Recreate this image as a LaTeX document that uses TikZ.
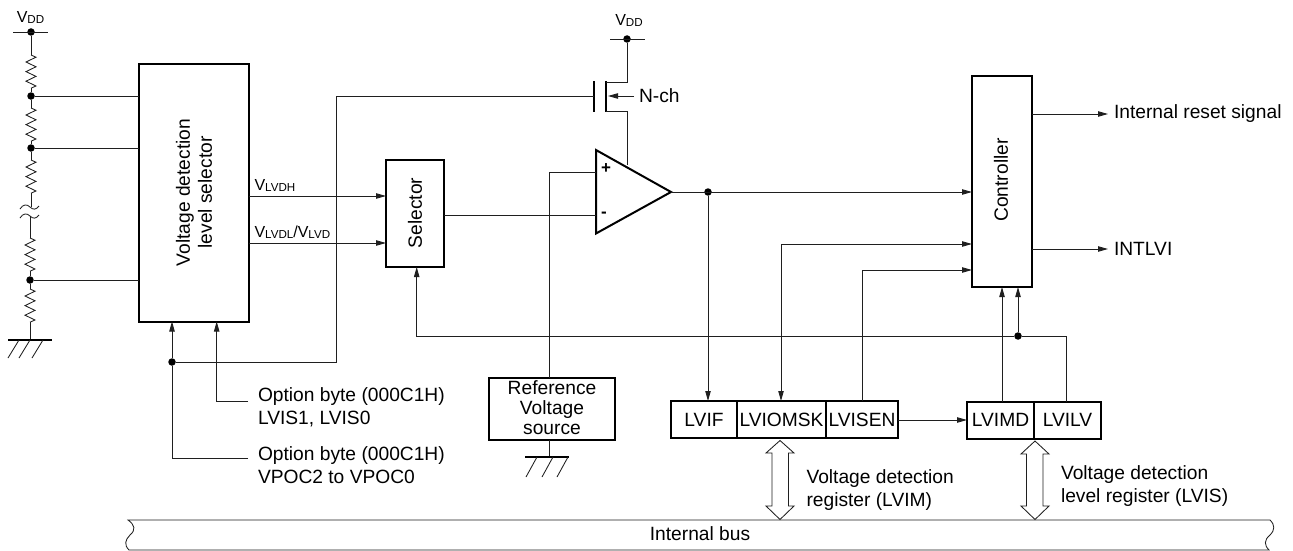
\documentclass[tikz,border=0pt]{standalone}
\usepackage{fontspec}
\setmainfont{Liberation Sans}
\usetikzlibrary{arrows.meta,calc}
\newcommand\vsub[1]{{\fontsize{16}{16}\selectfont V\raisebox{-1pt}{\fontsize{11.6}{11.6}\selectfont #1}}}
\newcommand\resz[2]{\draw[wire] (#1,#2) -- ++(5,2.2) -- ++(-10,4.8) -- ++(10,4.8) -- ++(-10,4.8) -- ++(10,4.8) -- ++(-10,4.8) -- ++(10,4.8) -- ++(-5,2.2);}
\tikzset{
  wire/.style={line width=0.85pt,draw=black!88},
  thk/.style={line width=2pt,draw=black,line join=miter},
  arr/.style={wire,-{Triangle[length=10pt,width=5.4pt]}},
  box/.style={draw=black,line width=2pt,rectangle,inner sep=0pt,outer sep=0pt,fill=white,align=center},
  dot/.style={circle,fill=black,inner sep=0pt,minimum size=7.5pt,outer sep=0pt},
  lab/.style={inner sep=0pt,outer sep=0pt,align=left,anchor=west,font=\fontsize{19.2}{23}\selectfont},
  clab/.style={inner sep=0pt,outer sep=0pt,align=center,font=\fontsize{19.2}{22}\selectfont},
  bigarrow/.style={draw=black!88,line width=0.85pt,fill=white,line join=miter}
}
\begin{document}
\begin{tikzpicture}[x=1pt,y=-1pt]
\useasboundingbox (0,0) rectangle (1293,551);
% boxes
\node[box,minimum width=109.5pt,minimum height=257.5pt] (lvl) at (194,192.75) {};
\node[clab,rotate=90] (lvltxt) at (194,192.5) {Voltage detection\\level selector};
\node[box,minimum width=58pt,minimum height=107pt] (sel) at (415,213.5) {};
\node[clab,rotate=90] (seltxt) at (415,213) {Selector};
\node[box,minimum width=60pt,minimum height=211pt] (ctl) at (1002,181.5) {};
\node[clab,rotate=90] (ctltxt) at (1001,180) {Controller};
\node[box,minimum width=126pt,minimum height=62pt] (ref) at (552,409) {};
\node[clab,font=\fontsize{19.2}{20}\selectfont] (reftxt) at (552,408) {Reference\\Voltage\\source};
\node[box,minimum width=66pt,minimum height=37pt] (lvif) at (704,419.5) {};
\node[clab] at (704,420) (lvift) {LVIF};
\node[box,minimum width=89pt,minimum height=37pt] (lviom) at (781.5,419.5) {};
\node[clab] at (781.5,420) (lviomt) {LVIOMSK};
\node[box,minimum width=72pt,minimum height=37pt] (lvisen) at (862,419.5) {};
\node[clab] at (862,420) (lvisent) {LVISEN};
\node[box,minimum width=67pt,minimum height=37pt] (lvimd) at (1000.5,420.5) {};
\node[clab] at (1000.5,420) (lvimdt) {LVIMD};
\node[box,minimum width=67pt,minimum height=37pt] (lvilv) at (1067.5,420.5) {};
\node[clab] at (1067.5,420) (lvilvt) {LVILV};
% left supply
\node[dot] (vdda) at (31,32) {};
\node[dot] (j1) at (31,96) {};
\node[dot] (j2) at (31,148) {};
\node[dot] (j3) at (30,280) {};
\node[clab] (vddat) at (30.5,17.5) {\vsub{DD}};
\draw[wire] (13,32) -- (48,32);
\draw[wire] (vdda) -- (31,55);
\resz{31}{55}
\draw[wire] (31,88.2) -- (j1) -- (31,108);
\resz{31}{108}
\draw[wire] (31,141.2) -- (j2) -- (31,160);
\resz{31}{160}
\draw[wire] (31,193.2) -- (31,207);
\draw[wire] (20,209) .. controls (23,204) and (27,204) .. (30,207) .. controls (33,210) and (36,210) .. (39,206);
\draw[wire] (20,218) .. controls (23,213) and (27,213) .. (30,216) .. controls (33,219) and (36,219) .. (39,215);
\draw[wire] (30,216) -- (30,238);
\resz{30}{238}
\draw[wire] (30,271.2) -- (j3) -- (30,289);
\resz{30}{289}
\draw[wire] (30,322.2) -- (30,340);
\coordinate (g1) at (30,340);
\draw[thk] ($(g1)+(-22,0)$) -- ($(g1)+(22,0)$);
\draw[wire] ($(g1)+(-11,0)$) -- ++(-11,18) (g1) -- ++(-11,18) ($(g1)+(13,0)$) -- ++(-11,18);
\draw[wire] (j1) -- (j1 -| lvl.west);
\draw[wire] (j2) -- (j2 -| lvl.west);
\draw[wire] (j3) -- (j3 -| lvl.west);
% selector inputs
\coordinate (hi) at (248.7,196);
\coordinate (lo) at (248.7,243);
\draw[arr] (hi) -- (hi -| sel.west);
\draw[arr] (lo) -- (lo -| sel.west);
\node[lab] (vhi) at (254.5,185.5) {\vsub{LVDH}};
\node[lab] (vlo) at (254.5,232.5) {\vsub{LVDL}{\fontsize{16}{16}\selectfont /}\vsub{LVD}};
% opamp
\coordinate (oat) at (596,150);
\coordinate (oab) at (596,233.5);
\coordinate (oao) at (671,192);
\coordinate (oap) at (596,172);
\coordinate (oam) at (596,215);
\draw[thk] (oat) -- (oab) -- (oao) -- cycle;
\node[clab,font=\bfseries\fontsize{17}{18}\selectfont] (plus) at (606,168.5) {+};
\node[clab,font=\bfseries\fontsize{17}{18}\selectfont] (minus) at (604,215) {-};
\draw[wire] (sel.east |- oam) -- (oam);
\coordinate (refb) at (549.5,172);
\draw[wire] (oap) -- (refb) -- (refb |- ref.north);
% transistor
\node[dot] (vddb) at (627,39) {};
\node[clab] (vddbt) at (629,20) {\vsub{DD}};
\draw[wire] (610,39) -- (645,39);
\coordinate (dr) at (606,82);
\coordinate (so) at (606,111);
\coordinate (gt) at (594,96);
\draw[thk] (594,81) -- (594,112);
\draw[thk] (606,81) -- (606,112);
\draw[wire] (vddb) |- (dr);
\coordinate (oain) at (627,165);
\draw[wire] (so) -| (oain);
\coordinate (nch) at (634,96);
\draw[arr] (nch) -- (608,96);
\node[lab] (nchl) at (639,96) {N-ch};
% gate line and VPOC
\node[dot] (j4) at (172,362) {};
\coordinate (gb1) at (336,96);
\coordinate (gb2) at (336,362);
\draw[wire] (gt) -- (gb1) -- (gb2) -- (j4);
\draw[arr] (j4) -- (j4 |- lvl.south);
\coordinate (optb) at (248,458);
\coordinate (opta) at (248,401);
\draw[wire] (optb) -| (j4);
\coordinate (optatop) at (216.7,321.5);
\draw[arr] (opta) -| (optatop);
\node[lab] (optal) at (258,407.5) {Option byte (000C1H)\\LVIS1, LVIS0};
\node[lab] (optbl) at (258,465.5) {Option byte (000C1H)\\VPOC2 to VPOC0};
% reference ground
\coordinate (g2) at (547,457);
\draw[wire] (refb |- ref.south) -- (refb |- g2);
\draw[thk] ($(g2)+(-22,0)$) -- ($(g2)+(22,0)$);
\draw[wire] ($(g2)+(-10,0)$) -- ++(-11,20) ($(g2)+(6,0)$) -- ++(-11,20) ($(g2)+(21,0)$) -- ++(-11,20);
% opamp output
\node[dot] (j5) at (708,192) {};
\draw[arr] (oao) -- (oao -| ctl.west);
\draw[arr] (j5) -- (j5 |- lvif.north);
% register lines
\coordinate (a1) at (781,244);
\draw[wire,{Triangle[length=10pt,width=5.4pt]}-{Triangle[length=10pt,width=5.4pt]}] (a1 |- lviom.north) -- (a1) -- (a1 -| ctl.west);
\coordinate (a2) at (862,270);
\draw[arr] (a2 |- lvisen.north) -- (a2) -- (a2 -| ctl.west);
\coordinate (a4) at (0,420);
\draw[arr] (lvisen.east |- a4) -- (lvimd.west |- a4);
\coordinate (a3) at (1002,300);
\draw[arr] (a3 |- lvimd.north) -- (a3 |- ctl.south);
\node[dot] (j6) at (1018,336) {};
\draw[arr] (j6) -- (j6 |- ctl.south);
\coordinate (lv) at (1066,402);
\coordinate (lvb) at (1066,336);
\coordinate (selb) at (416.7,336);
\draw[arr] (lv) -- (lvb) -- (j6) -- (selb) -- (selb |- sel.south);
% outputs
\coordinate (o1) at (1108,114);
\coordinate (o2) at (1108,249);
\draw[arr] (ctl.east |- o1) -- (o1);
\draw[arr] (ctl.east |- o2) -- (o2);
\node[lab] (rst) at (1114,114) {Internal reset signal};
\node[lab] (intl) at (1114,249) {INTLVI};
% bus
\draw[wire,fill=white] (128,520) -- (1270,520) .. controls (1275,525) and (1275,530) .. (1270,535) .. controls (1264,540) and (1264,545) .. (1269,550) -- (129,550) .. controls (124,545) and (125,540) .. (130,535) .. controls (136,530) and (135,525) .. (128,520) -- cycle;
\node[clab] (bus) at (700,534) {Internal bus};
% double arrows
\draw[bigarrow] (780,440.5) -- (794,453) -- (788.5,453) -- (788.5,506) -- (794,506) -- (780,519.5) -- (766,506) -- (772,506) -- (772,453) -- (766,453) -- cycle;
\draw[bigarrow] (1035,441) -- (1049,454) -- (1043,454) -- (1043,506) -- (1049,506) -- (1035,519.5) -- (1021,506) -- (1026.5,506) -- (1026.5,454) -- (1021,454) -- cycle;
\node[lab] (lvim) at (806.5,490) {Voltage detection\\register (LVIM)};
\node[lab] (lvis) at (1061,486.5) {Voltage detection\\level register (LVIS)};
\end{tikzpicture}
\end{document}
